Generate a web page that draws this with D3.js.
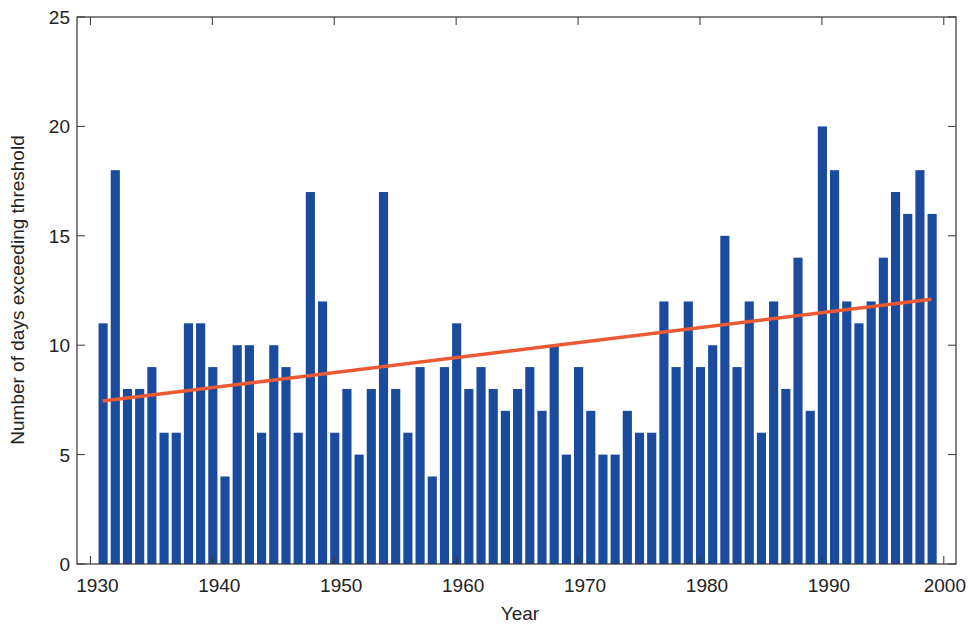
<!DOCTYPE html><html><head><meta charset="utf-8"><script src="https://cdn.jsdelivr.net/npm/d3@7"></script>
<style>body{margin:0;background:#fff}text{font-family:Arial,"Liberation Sans",sans-serif;fill:#222}</style></head><body><svg id="c" width="968" height="625"></svg><script>
const years=d3.range(1931,2000);
const values=[11,18,8,8,9,6,6,11,11,9,4,10,10,6,10,9,6,17,12,6,8,5,8,17,8,6,9,4,9,11,8,9,8,7,8,9,7,10,5,9,7,5,5,7,6,6,12,9,12,9,10,15,9,12,6,12,8,14,7,20,18,12,11,12,14,17,16,18,16];
const trendYears=[1931,1999], trendValues=[7.45,12.1];
const xTicks=[1930,1940,1950,1960,1970,1980,1990,2000], yTicks=[0,5,10,15,20,25];
const svg=d3.select("#c");
const L=77,R=956,T=17,B=564;
const x=d3.scaleLinear().domain([1928.9,2001]).range([L,R]);
const y=d3.scaleLinear().domain([0,25]).range([B,T]);
const bw=(x(1)-x(0))*0.75;
svg.append("g").selectAll("rect").data(years).join("rect")
 .attr("x",d=>x(d)-bw/2+0.5).attr("width",bw).attr("y",(d,i)=>y(values[i])).attr("height",(d,i)=>B-y(values[i])).attr("fill","#1a4b9f");
svg.append("path").attr("d",d3.line().x(d=>x(d[0])).y(d=>y(d[1]))(trendYears.map((d,i)=>[d,trendValues[i]])))
 .attr("stroke","#ec5a33").attr("stroke-width",3.5).attr("fill","none");
svg.append("rect").attr("x",L).attr("y",T).attr("width",R-L).attr("height",B-T).attr("fill","none").attr("stroke","#333").attr("stroke-width",1.2);
const ax=svg.append("g");
xTicks.forEach(t=>{ax.append("line").attr("x1",x(t)).attr("x2",x(t)).attr("y1",B).attr("y2",B-8).attr("stroke","#333");
 ax.append("line").attr("x1",x(t)).attr("x2",x(t)).attr("y1",T).attr("y2",T+8).attr("stroke","#333");
 const last=t===2000;
 ax.append("text").attr("x",last?966:x(t)+7).attr("y",B+28).attr("text-anchor",last?"end":"middle").attr("font-size",19).text(t);});
yTicks.forEach(t=>{ax.append("line").attr("x1",L).attr("x2",L+8).attr("y1",y(t)).attr("y2",y(t)).attr("stroke","#333");
 ax.append("line").attr("x1",R).attr("x2",R-8).attr("y1",y(t)).attr("y2",y(t)).attr("stroke","#333");
 ax.append("text").attr("x",L-7).attr("y",y(t)+7).attr("text-anchor","end").attr("font-size",19).text(t);});
svg.append("text").attr("x",520).attr("y",620).attr("text-anchor","middle").attr("font-size",19).text("Year");
svg.append("text").attr("transform","translate(24,290) rotate(-90)").attr("text-anchor","middle").attr("font-size",19).text("Number of days exceeding threshold");
</script></body></html>
